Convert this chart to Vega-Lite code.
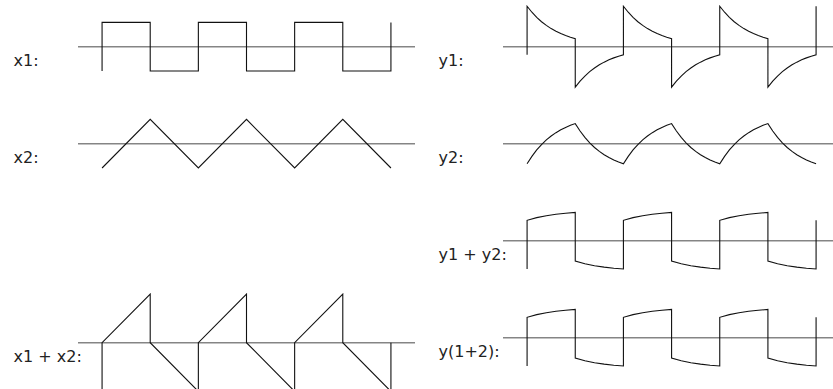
{
"$schema": "https://vega.github.io/schema/vega-lite/v6.json",
"padding": {"left": 13, "top": 0, "right": 0, "bottom": 0},
"background": "white",
"data": {"values": [
{"p":"x1","t":0,"v":-1},{"p":"x1","t":0,"v":1},{"p":"x1","t":1,"v":1},{"p":"x1","t":1,"v":-1},{"p":"x1","t":2,"v":-1},{"p":"x1","t":2,"v":1},{"p":"x1","t":3,"v":1},{"p":"x1","t":3,"v":-1},{"p":"x1","t":4,"v":-1},{"p":"x1","t":4,"v":1},{"p":"x1","t":5,"v":1},{"p":"x1","t":5,"v":-1},{"p":"x1","t":6,"v":-1},{"p":"x1","t":6,"v":1},
{"p":"x2","t":0,"v":-1},{"p":"x2","t":1,"v":1},{"p":"x2","t":2,"v":-1},{"p":"x2","t":3,"v":1},{"p":"x2","t":4,"v":-1},{"p":"x2","t":5,"v":1},{"p":"x2","t":6,"v":-1},
{"p":"xs","t":0,"v":-2},{"p":"xs","t":0,"v":0},{"p":"xs","t":1,"v":2},{"p":"xs","t":1,"v":0},{"p":"xs","t":2,"v":-2},{"p":"xs","t":2,"v":0},{"p":"xs","t":3,"v":2},{"p":"xs","t":3,"v":0},{"p":"xs","t":4,"v":-2},{"p":"xs","t":4,"v":0},{"p":"xs","t":5,"v":2},{"p":"xs","t":5,"v":0},{"p":"xs","t":6,"v":-2},{"p":"xs","t":6,"v":0},
{"p":"y1","t":0,"v":-0.333},
{"p":"y1","t":0,"v":1.667},{"p":"y1","t":0.1,"v":1.419},{"p":"y1","t":0.2,"v":1.208},{"p":"y1","t":0.3,"v":1.028},{"p":"y1","t":0.4,"v":0.876},{"p":"y1","t":0.5,"v":0.745},{"p":"y1","t":0.6,"v":0.635},{"p":"y1","t":0.7,"v":0.54},{"p":"y1","t":0.8,"v":0.46},{"p":"y1","t":0.9,"v":0.392},{"p":"y1","t":1,"v":0.333},
{"p":"y1","t":1,"v":-1.667},{"p":"y1","t":1.1,"v":-1.419},{"p":"y1","t":1.2,"v":-1.208},{"p":"y1","t":1.3,"v":-1.028},{"p":"y1","t":1.4,"v":-0.876},{"p":"y1","t":1.5,"v":-0.745},{"p":"y1","t":1.6,"v":-0.635},{"p":"y1","t":1.7,"v":-0.54},{"p":"y1","t":1.8,"v":-0.46},{"p":"y1","t":1.9,"v":-0.392},{"p":"y1","t":2,"v":-0.333},
{"p":"y1","t":2,"v":1.667},{"p":"y1","t":2.1,"v":1.419},{"p":"y1","t":2.2,"v":1.208},{"p":"y1","t":2.3,"v":1.028},{"p":"y1","t":2.4,"v":0.876},{"p":"y1","t":2.5,"v":0.745},{"p":"y1","t":2.6,"v":0.635},{"p":"y1","t":2.7,"v":0.54},{"p":"y1","t":2.8,"v":0.46},{"p":"y1","t":2.9,"v":0.392},{"p":"y1","t":3,"v":0.333},
{"p":"y1","t":3,"v":-1.667},{"p":"y1","t":3.1,"v":-1.419},{"p":"y1","t":3.2,"v":-1.208},{"p":"y1","t":3.3,"v":-1.028},{"p":"y1","t":3.4,"v":-0.876},{"p":"y1","t":3.5,"v":-0.745},{"p":"y1","t":3.6,"v":-0.635},{"p":"y1","t":3.7,"v":-0.54},{"p":"y1","t":3.8,"v":-0.46},{"p":"y1","t":3.9,"v":-0.392},{"p":"y1","t":4,"v":-0.333},
{"p":"y1","t":4,"v":1.667},{"p":"y1","t":4.1,"v":1.419},{"p":"y1","t":4.2,"v":1.208},{"p":"y1","t":4.3,"v":1.028},{"p":"y1","t":4.4,"v":0.876},{"p":"y1","t":4.5,"v":0.745},{"p":"y1","t":4.6,"v":0.635},{"p":"y1","t":4.7,"v":0.54},{"p":"y1","t":4.8,"v":0.46},{"p":"y1","t":4.9,"v":0.392},{"p":"y1","t":5,"v":0.333},
{"p":"y1","t":5,"v":-1.667},{"p":"y1","t":5.1,"v":-1.419},{"p":"y1","t":5.2,"v":-1.208},{"p":"y1","t":5.3,"v":-1.028},{"p":"y1","t":5.4,"v":-0.876},{"p":"y1","t":5.5,"v":-0.745},{"p":"y1","t":5.6,"v":-0.635},{"p":"y1","t":5.7,"v":-0.54},{"p":"y1","t":5.8,"v":-0.46},{"p":"y1","t":5.9,"v":-0.392},{"p":"y1","t":6,"v":-0.333},
{"p":"y1","t":6,"v":1.667},
{"p":"y2","t":0,"v":-0.828},{"p":"y2","t":0.1,"v":-0.521},{"p":"y2","t":0.2,"v":-0.258},{"p":"y2","t":0.3,"v":-0.035},{"p":"y2","t":0.4,"v":0.155},{"p":"y2","t":0.5,"v":0.317},{"p":"y2","t":0.6,"v":0.454},{"p":"y2","t":0.7,"v":0.571},{"p":"y2","t":0.8,"v":0.671},{"p":"y2","t":0.9,"v":0.756},{"p":"y2","t":1,"v":0.828},
{"p":"y2","t":1.1,"v":0.521},{"p":"y2","t":1.2,"v":0.258},{"p":"y2","t":1.3,"v":0.035},{"p":"y2","t":1.4,"v":-0.155},{"p":"y2","t":1.5,"v":-0.317},{"p":"y2","t":1.6,"v":-0.454},{"p":"y2","t":1.7,"v":-0.571},{"p":"y2","t":1.8,"v":-0.671},{"p":"y2","t":1.9,"v":-0.756},{"p":"y2","t":2,"v":-0.828},
{"p":"y2","t":2.1,"v":-0.521},{"p":"y2","t":2.2,"v":-0.258},{"p":"y2","t":2.3,"v":-0.035},{"p":"y2","t":2.4,"v":0.155},{"p":"y2","t":2.5,"v":0.317},{"p":"y2","t":2.6,"v":0.454},{"p":"y2","t":2.7,"v":0.571},{"p":"y2","t":2.8,"v":0.671},{"p":"y2","t":2.9,"v":0.756},{"p":"y2","t":3,"v":0.828},
{"p":"y2","t":3.1,"v":0.521},{"p":"y2","t":3.2,"v":0.258},{"p":"y2","t":3.3,"v":0.035},{"p":"y2","t":3.4,"v":-0.155},{"p":"y2","t":3.5,"v":-0.317},{"p":"y2","t":3.6,"v":-0.454},{"p":"y2","t":3.7,"v":-0.571},{"p":"y2","t":3.8,"v":-0.671},{"p":"y2","t":3.9,"v":-0.756},{"p":"y2","t":4,"v":-0.828},
{"p":"y2","t":4.1,"v":-0.521},{"p":"y2","t":4.2,"v":-0.258},{"p":"y2","t":4.3,"v":-0.035},{"p":"y2","t":4.4,"v":0.155},{"p":"y2","t":4.5,"v":0.317},{"p":"y2","t":4.6,"v":0.454},{"p":"y2","t":4.7,"v":0.571},{"p":"y2","t":4.8,"v":0.671},{"p":"y2","t":4.9,"v":0.756},{"p":"y2","t":5,"v":0.828},
{"p":"y2","t":5.1,"v":0.521},{"p":"y2","t":5.2,"v":0.258},{"p":"y2","t":5.3,"v":0.035},{"p":"y2","t":5.4,"v":-0.155},{"p":"y2","t":5.5,"v":-0.317},{"p":"y2","t":5.6,"v":-0.454},{"p":"y2","t":5.7,"v":-0.571},{"p":"y2","t":5.8,"v":-0.671},{"p":"y2","t":5.9,"v":-0.756},{"p":"y2","t":6,"v":-0.828},
{"p":"ys","t":0,"v":-1.162},
{"p":"ys","t":0,"v":0.838},{"p":"ys","t":0.2,"v":0.95},{"p":"ys","t":0.4,"v":1.03},{"p":"ys","t":0.6,"v":1.089},{"p":"ys","t":0.8,"v":1.131},{"p":"ys","t":1,"v":1.162},
{"p":"ys","t":1,"v":-0.838},{"p":"ys","t":1.2,"v":-0.95},{"p":"ys","t":1.4,"v":-1.03},{"p":"ys","t":1.6,"v":-1.089},{"p":"ys","t":1.8,"v":-1.131},{"p":"ys","t":2,"v":-1.162},
{"p":"ys","t":2,"v":0.838},{"p":"ys","t":2.2,"v":0.95},{"p":"ys","t":2.4,"v":1.03},{"p":"ys","t":2.6,"v":1.089},{"p":"ys","t":2.8,"v":1.131},{"p":"ys","t":3,"v":1.162},
{"p":"ys","t":3,"v":-0.838},{"p":"ys","t":3.2,"v":-0.95},{"p":"ys","t":3.4,"v":-1.03},{"p":"ys","t":3.6,"v":-1.089},{"p":"ys","t":3.8,"v":-1.131},{"p":"ys","t":4,"v":-1.162},
{"p":"ys","t":4,"v":0.838},{"p":"ys","t":4.2,"v":0.95},{"p":"ys","t":4.4,"v":1.03},{"p":"ys","t":4.6,"v":1.089},{"p":"ys","t":4.8,"v":1.131},{"p":"ys","t":5,"v":1.162},
{"p":"ys","t":5,"v":-0.838},{"p":"ys","t":5.2,"v":-0.95},{"p":"ys","t":5.4,"v":-1.03},{"p":"ys","t":5.6,"v":-1.089},{"p":"ys","t":5.8,"v":-1.131},{"p":"ys","t":6,"v":-1.162},
{"p":"ys","t":6,"v":0.838},
{"p":"yc","t":0,"v":-1.162},
{"p":"yc","t":0,"v":0.838},{"p":"yc","t":0.2,"v":0.95},{"p":"yc","t":0.4,"v":1.03},{"p":"yc","t":0.6,"v":1.089},{"p":"yc","t":0.8,"v":1.131},{"p":"yc","t":1,"v":1.162},
{"p":"yc","t":1,"v":-0.838},{"p":"yc","t":1.2,"v":-0.95},{"p":"yc","t":1.4,"v":-1.03},{"p":"yc","t":1.6,"v":-1.089},{"p":"yc","t":1.8,"v":-1.131},{"p":"yc","t":2,"v":-1.162},
{"p":"yc","t":2,"v":0.838},{"p":"yc","t":2.2,"v":0.95},{"p":"yc","t":2.4,"v":1.03},{"p":"yc","t":2.6,"v":1.089},{"p":"yc","t":2.8,"v":1.131},{"p":"yc","t":3,"v":1.162},
{"p":"yc","t":3,"v":-0.838},{"p":"yc","t":3.2,"v":-0.95},{"p":"yc","t":3.4,"v":-1.03},{"p":"yc","t":3.6,"v":-1.089},{"p":"yc","t":3.8,"v":-1.131},{"p":"yc","t":4,"v":-1.162},
{"p":"yc","t":4,"v":0.838},{"p":"yc","t":4.2,"v":0.95},{"p":"yc","t":4.4,"v":1.03},{"p":"yc","t":4.6,"v":1.089},{"p":"yc","t":4.8,"v":1.131},{"p":"yc","t":5,"v":1.162},
{"p":"yc","t":5,"v":-0.838},{"p":"yc","t":5.2,"v":-0.95},{"p":"yc","t":5.4,"v":-1.03},{"p":"yc","t":5.6,"v":-1.089},{"p":"yc","t":5.8,"v":-1.131},{"p":"yc","t":6,"v":-1.162},
{"p":"yc","t":6,"v":0.838}
]},
"config": {
  "view": {"stroke": null},
  "axis": {"domain": false, "ticks": false, "labels": false, "grid": false, "titleFont": "DejaVu Sans", "titleFontSize": 16, "titleFontWeight": "normal", "titleColor": "#222222", "titleAngle": 0, "titleAlign": "left", "titleBaseline": "alphabetic", "titleX": -65, "titleY": 65},
  "line": {"color": "#111111", "strokeWidth": 1.1},
  "rule": {"color": "#858585", "strokeWidth": 1.5}
},
"spacing": 22,
"resolve": {"scale": {"x": "independent", "y": "independent"}},
"hconcat": [
 {"spacing": 0, "resolve": {"scale": {"x": "independent", "y": "independent"}}, "vconcat": [
  {"width": 337, "height": 97, "layer": [
   {"data": {"values": [{}]}, "mark": "rule", "encoding": {"y": {"datum": 0, "type": "quantitative", "scale": {"domain": [-2.07, 1.922], "nice": false, "zero": false}, "axis": {"title": "x1:"}}}},
   {"transform": [{"filter": "datum.p == 'x1'"}], "mark": "line", "encoding": {"x": {"field": "t", "type": "quantitative", "scale": {"domain": [-0.5, 6.5], "nice": false, "zero": false}, "axis": null}, "y": {"field": "v", "type": "quantitative", "scale": {"domain": [-2.07, 1.922], "nice": false, "zero": false}, "axis": {"title": "x1:"}}, "order": {"value": null}}}
  ]},
  {"width": 337, "height": 97, "layer": [
   {"data": {"values": [{}]}, "mark": "rule", "encoding": {"y": {"datum": 0, "type": "quantitative", "scale": {"domain": [-2.07, 1.922], "nice": false, "zero": false}, "axis": {"title": "x2:"}}}},
   {"transform": [{"filter": "datum.p == 'x2'"}], "mark": "line", "encoding": {"x": {"field": "t", "type": "quantitative", "scale": {"domain": [-0.5, 6.5], "nice": false, "zero": false}, "axis": null}, "y": {"field": "v", "type": "quantitative", "scale": {"domain": [-2.07, 1.922], "nice": false, "zero": false}, "axis": {"title": "x2:"}}, "order": {"value": null}}}
  ]},
  {"width": 337, "height": 97, "transform": [{"filter": "datum.p == 'none'"}], "mark": "line", "encoding": {"x": {"field": "t", "type": "quantitative", "axis": null}, "y": {"field": "v", "type": "quantitative", "axis": null}}},
  {"width": 337, "height": 97, "layer": [
   {"data": {"values": [{}]}, "mark": "rule", "encoding": {"y": {"datum": 0, "type": "quantitative", "scale": {"domain": [-2.07, 1.922], "nice": false, "zero": false}, "axis": {"title": "x1 + x2:"}}}},
   {"transform": [{"filter": "datum.p == 'xs'"}], "mark": "line", "encoding": {"x": {"field": "t", "type": "quantitative", "scale": {"domain": [-0.5, 6.5], "nice": false, "zero": false}, "axis": null}, "y": {"field": "v", "type": "quantitative", "scale": {"domain": [-2.07, 1.922], "nice": false, "zero": false}, "axis": {"title": "x1 + x2:"}}, "order": {"value": null}}}
  ]}
 ]},
 {"spacing": 0, "resolve": {"scale": {"x": "independent", "y": "independent"}}, "vconcat": [
  {"width": 331, "height": 97, "layer": [
   {"data": {"values": [{}]}, "mark": "rule", "encoding": {"y": {"datum": 0, "type": "quantitative", "scale": {"domain": [-2.07, 1.922], "nice": false, "zero": false}, "axis": {"title": "y1:"}}}},
   {"transform": [{"filter": "datum.p == 'y1'"}], "mark": "line", "encoding": {"x": {"field": "t", "type": "quantitative", "scale": {"domain": [-0.5, 6.372], "nice": false, "zero": false}, "axis": null}, "y": {"field": "v", "type": "quantitative", "scale": {"domain": [-2.07, 1.922], "nice": false, "zero": false}, "axis": {"title": "y1:"}}, "order": {"value": null}}}
  ]},
  {"width": 331, "height": 97, "layer": [
   {"data": {"values": [{}]}, "mark": "rule", "encoding": {"y": {"datum": 0, "type": "quantitative", "scale": {"domain": [-2.07, 1.922], "nice": false, "zero": false}, "axis": {"title": "y2:"}}}},
   {"transform": [{"filter": "datum.p == 'y2'"}], "mark": "line", "encoding": {"x": {"field": "t", "type": "quantitative", "scale": {"domain": [-0.5, 6.372], "nice": false, "zero": false}, "axis": null}, "y": {"field": "v", "type": "quantitative", "scale": {"domain": [-2.07, 1.922], "nice": false, "zero": false}, "axis": {"title": "y2:"}}, "order": {"value": null}}}
  ]},
  {"width": 331, "height": 97, "layer": [
   {"data": {"values": [{}]}, "mark": "rule", "encoding": {"y": {"datum": 0, "type": "quantitative", "scale": {"domain": [-2.07, 1.922], "nice": false, "zero": false}, "axis": {"title": "y1 + y2:"}}}},
   {"transform": [{"filter": "datum.p == 'ys'"}], "mark": "line", "encoding": {"x": {"field": "t", "type": "quantitative", "scale": {"domain": [-0.5, 6.372], "nice": false, "zero": false}, "axis": null}, "y": {"field": "v", "type": "quantitative", "scale": {"domain": [-2.07, 1.922], "nice": false, "zero": false}, "axis": {"title": "y1 + y2:"}}, "order": {"value": null}}}
  ]},
  {"width": 331, "height": 97, "layer": [
   {"data": {"values": [{}]}, "mark": "rule", "encoding": {"y": {"datum": 0, "type": "quantitative", "scale": {"domain": [-2.07, 1.922], "nice": false, "zero": false}, "axis": {"title": "y(1+2):"}}}},
   {"transform": [{"filter": "datum.p == 'yc'"}], "mark": "line", "encoding": {"x": {"field": "t", "type": "quantitative", "scale": {"domain": [-0.5, 6.372], "nice": false, "zero": false}, "axis": null}, "y": {"field": "v", "type": "quantitative", "scale": {"domain": [-2.07, 1.922], "nice": false, "zero": false}, "axis": {"title": "y(1+2):"}}, "order": {"value": null}}}
  ]}
 ]}
]
}
